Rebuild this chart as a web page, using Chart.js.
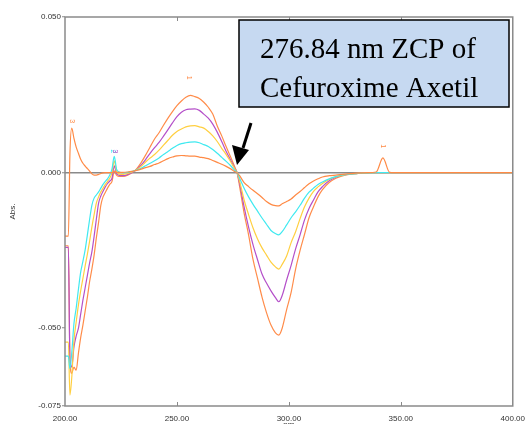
<!DOCTYPE html>
<html>
<head>
<meta charset="utf-8">
<script src="https://cdn.jsdelivr.net/npm/chart.js@4"></script>
<style>
  html, body { margin: 0; padding: 0; background: #fff; }
  canvas { display: block; }
</style>
</head>
<body>
<canvas id="spectrumChart" width="525" height="424"></canvas>
<script>
// wavelength grid (nm)
const wavelength = [
  200, 201.5, 202.2, 203,
  204, 205, 206, 207, 208, 209, 210, 211, 212, 213, 214, 215, 216, 217, 218, 219, 220, 221, 222, 223, 224,
  226, 228, 230, 232, 234, 236, 238, 240, 242, 244, 246, 248, 250, 252, 254, 256, 258, 260, 262, 264, 266, 268, 270, 272, 274, 276,
  276.84,
  278, 280, 282, 284, 286, 288, 290, 292, 294,
  295.5,
  297, 299, 301, 303, 305, 307, 309, 311, 313, 315,
  318, 321, 325, 330, 335, 339, 342, 345, 350,
  360, 370, 380, 390, 400
];

const outerOrange = [
  -0.0235, -0.0235, -0.060, -0.0645,
  -0.0625, -0.0635, -0.058, -0.053, -0.049, -0.0445, -0.040, -0.035, -0.031, -0.0265, -0.021, -0.016, -0.0105, -0.0078, -0.0064, -0.0050, -0.0038, -0.0028, 0.0006, -0.0008, -0.0012,
  -0.0012, -0.0008, 0.0000, 0.0012, 0.0032, 0.0056, 0.0082, 0.0108, 0.0128, 0.0152, 0.0175, 0.0196, 0.0215, 0.0230, 0.0242, 0.0248, 0.0244, 0.0238, 0.0226, 0.0210, 0.0188, 0.0150, 0.0118, 0.0083, 0.0050, 0.0015,
  0,
  -0.0045, -0.0130, -0.0200, -0.0280, -0.0340, -0.0400, -0.0450, -0.0490, -0.0515,
  -0.0522,
  -0.0500, -0.0440, -0.0385, -0.0310, -0.0250, -0.0198, -0.0145, -0.0110, -0.0078, -0.0055,
  -0.0032, -0.0018, -0.0008, -0.0003, -0.0001, 0, 0, 0, 0,
  0, 0, 0, 0, 0
];

const purple = [
  -0.024, -0.024, -0.060, -0.0625,
  -0.056, -0.0525, -0.050, -0.0455, -0.041, -0.037, -0.033, -0.029, -0.0255, -0.0205, -0.0150, -0.0098, -0.0075, -0.0060, -0.0046, -0.0035, -0.0027, -0.0018, 0.0022, -0.0002, -0.0008,
  -0.0010, -0.0006, 0.0000, 0.0010, 0.0024, 0.0042, 0.0062, 0.0080, 0.0097, 0.0117, 0.0138, 0.0160, 0.0180, 0.0194, 0.0202, 0.0204, 0.0205, 0.0200, 0.0188, 0.0175, 0.0156, 0.0130, 0.0100, 0.0068, 0.0040, 0.0012,
  0,
  -0.0035, -0.0110, -0.0175, -0.0232, -0.0280, -0.0326, -0.0355, -0.0380, -0.0402,
  -0.0415,
  -0.0395, -0.0345, -0.0298, -0.0245, -0.0200, -0.0152, -0.0115, -0.0088, -0.0062, -0.0045,
  -0.0026, -0.0015, -0.0007, -0.0003, -0.0001, 0, 0, 0, 0,
  0, 0, 0, 0, 0
];

const yellow = [
  -0.0545, -0.0545, -0.0715, -0.066,
  -0.0540, -0.0480, -0.0425, -0.0380, -0.0340, -0.0300, -0.0262, -0.0220, -0.0175, -0.0135, -0.0098, -0.0078, -0.0062, -0.0050, -0.0038, -0.0028, -0.0018, 0.0000, 0.0038, 0.0005, -0.0004,
  -0.0006, -0.0003, 0.0002, 0.0010, 0.0020, 0.0034, 0.0047, 0.0058, 0.0072, 0.0088, 0.0104, 0.0120, 0.0132, 0.0140, 0.0147, 0.0150, 0.0151, 0.0147, 0.0143, 0.0132, 0.0118, 0.0100, 0.0078, 0.0058, 0.0035, 0.0010,
  0,
  -0.0028, -0.0088, -0.0135, -0.0178, -0.0213, -0.0242, -0.0265, -0.0288, -0.0303,
  -0.0310,
  -0.0295, -0.0268, -0.0225, -0.0190, -0.0148, -0.0110, -0.0082, -0.0060, -0.0046, -0.0035,
  -0.0022, -0.0013, -0.0007, -0.0003, -0.0001, 0, 0, 0, 0,
  0, 0, 0, 0, 0
];

const cyan = [
  -0.059, -0.059, -0.063, -0.058,
  -0.0485, -0.0435, -0.0375, -0.0320, -0.0285, -0.0248, -0.0200, -0.0150, -0.0105, -0.0082, -0.0072, -0.0062, -0.0050, -0.0038, -0.0028, -0.0020, -0.0008, 0.0012, 0.0052, 0.0012, 0.0003,
  0.0000, 0.0001, 0.0004, 0.0008, 0.0014, 0.0022, 0.0030, 0.0038, 0.0047, 0.0058, 0.0068, 0.0078, 0.0087, 0.0093, 0.0096, 0.0098, 0.0099, 0.0096, 0.0090, 0.0084, 0.0074, 0.0062, 0.0049, 0.0036, 0.0022, 0.0006,
  0,
  -0.0018, -0.0050, -0.0078, -0.0102, -0.0124, -0.0146, -0.0166, -0.0186, -0.0196,
  -0.0200,
  -0.0190, -0.0168, -0.0145, -0.0126, -0.0105, -0.0082, -0.0063, -0.0050, -0.0038, -0.0030,
  -0.0020, -0.0013, -0.0007, -0.0003, -0.0001, 0, 0, 0, 0,
  0, 0, 0, 0, 0
];

const innerOrange = [
  -0.0204, -0.0204, 0.0060, 0.0143,
  0.0110, 0.0082, 0.0062, 0.0043, 0.0030, 0.0021, 0.0013, 0.0005, -0.0004, -0.0008, -0.0008, -0.0006, -0.0003, -0.0001, 0, 0, 0, 0, 0.0004, 0.0001, 0.0001,
  0.0001, 0.0002, 0.0004, 0.0007, 0.0011, 0.0016, 0.0020, 0.0026, 0.0031, 0.0038, 0.0045, 0.0050, 0.0054, 0.0055, 0.0054, 0.0053, 0.0053, 0.0050, 0.0048, 0.0045, 0.0039, 0.0033, 0.0027, 0.0020, 0.0012, 0.0003,
  0,
  -0.0010, -0.0032, -0.0045, -0.0057, -0.0068, -0.0080, -0.0093, -0.0102, -0.0106,
  -0.0107,
  -0.0100, -0.0093, -0.0085, -0.0072, -0.0061, -0.0048, -0.0036, -0.0027, -0.0020, -0.0014,
  -0.0010, -0.0008, -0.0005, -0.0002, 0, 0.0002, 0.0047, 0.0001, 0,
  0, 0, 0, 0, 0
];

const xTicks = [200, 250, 300, 350, 400];
const yTicks = [-0.075, -0.05, 0, 0.05];

// peak-pick markers printed by the instrument software: [nm, text, colour]
const peakMarks = [
  [203.1, '3', '#ff8a45'],
  [221.6, '2', '#3fe9f0'],
  [222.4, '3', '#b44fc9'],
  [255.3, '1', '#ff8c4a'],
  [342, '1', '#ff8a45']
];
const peakMarkAbs = [0.0165, 0.0068, 0.0068, 0.0305, 0.0085];

const tickFont = { family: "'Liberation Sans', Arial, sans-serif", size: 8 };
const axisGray = '#8a8a8a';

function toPoints(values) {
  return values.map((v, i) => ({ x: wavelength[i], y: v }));
}

function series(values, color) {
  return {
    data: toPoints(values),
    borderColor: color,
    borderWidth: 1.2,
    pointRadius: 0,
    cubicInterpolationMode: 'monotone',
    fill: false
  };
}

// frame, inner tick marks, axis titles and the ZCP callout
const decorations = {
  id: 'decorations',
  afterDraw(chart) {
    const { ctx, chartArea: a, scales: { x, y } } = chart;
    ctx.save();
    ctx.strokeStyle = axisGray;
    ctx.lineWidth = 1.5;
    ctx.strokeRect(a.left, a.top, a.right - a.left, a.bottom - a.top);

    ctx.lineWidth = 1;
    xTicks.slice(1, -1).forEach(v => {
      const px = Math.round(x.getPixelForValue(v)) + 0.5;
      ctx.beginPath();
      ctx.moveTo(px, a.bottom);
      ctx.lineTo(px, a.bottom - 4);
      ctx.moveTo(px, a.top);
      ctx.lineTo(px, a.top + 4);
      ctx.stroke();
    });

    // small rotated peak labels
    ctx.font = "7px 'Liberation Sans', Arial, sans-serif";
    ctx.textAlign = 'center';
    ctx.textBaseline = 'middle';
    peakMarks.forEach(([nm, txt, col], i) => {
      ctx.save();
      ctx.fillStyle = col;
      ctx.translate(x.getPixelForValue(nm), y.getPixelForValue(peakMarkAbs[i]));
      ctx.rotate(Math.PI / 2);
      ctx.fillText(txt, 0, 0);
      ctx.restore();
    });

    ctx.fillStyle = '#333';
    ctx.font = "8px 'Liberation Sans', Arial, sans-serif";
    ctx.save();
    ctx.translate(13, (a.top + a.bottom) / 2);
    ctx.rotate(-Math.PI / 2);
    ctx.fillText('Abs.', 0, 0);
    ctx.restore();
    ctx.textBaseline = 'top';
    ctx.fillText('nm', x.getPixelForValue(300), 421);

    // callout box
    ctx.fillStyle = '#c6d9f1';
    ctx.fillRect(239, 20, 270, 87);
    ctx.strokeStyle = '#000';
    ctx.lineWidth = 1.5;
    ctx.strokeRect(239, 20, 270, 87);
    ctx.fillStyle = '#000';
    ctx.font = "29px 'Liberation Serif', 'Times New Roman', serif";
    ctx.textAlign = 'left';
    ctx.textBaseline = 'alphabetic';
    ctx.fillText('276.84 nm ZCP of', 260, 58);
    ctx.fillText('Cefuroxime Axetil', 260, 97);

    // arrow to the zero crossing
    ctx.lineWidth = 3;
    ctx.beginPath();
    ctx.moveTo(251, 123);
    ctx.lineTo(243, 148);
    ctx.stroke();
    ctx.beginPath();
    ctx.moveTo(237, 165);
    ctx.lineTo(232, 145);
    ctx.lineTo(249, 150);
    ctx.closePath();
    ctx.fill();
    ctx.restore();
  }
};

new Chart(document.getElementById('spectrumChart'), {
  type: 'line',
  data: {
    datasets: [
      series(innerOrange, '#ff8a45'),
      series(cyan, '#3fe9f0'),
      series(yellow, '#ffcf40'),
      series(purple, '#b44fc9'),
      series(outerOrange, '#ff8c4a')
    ]
  },
  options: {
    responsive: false,
    animation: false,
    layout: { padding: { top: 17, right: 12, left: 0, bottom: 0 } },
    plugins: { legend: { display: false }, tooltip: { enabled: false } },
    scales: {
      x: {
        type: 'linear',
        min: 200,
        max: 400,
        afterBuildTicks: s => { s.ticks = xTicks.map(v => ({ value: v })); },
        afterFit: s => { s.height = 18; },
        border: { display: false },
        grid: { display: false },
        ticks: {
          autoSkip: false,
          maxRotation: 0,
          padding: 0,
          font: tickFont,
          color: '#333',
          callback: v => Number(v).toFixed(2)
        }
      },
      y: {
        min: -0.075,
        max: 0.05,
        afterBuildTicks: s => { s.ticks = yTicks.map(v => ({ value: v })); },
        afterFit: s => { s.width = 65; },
        border: { display: false },
        grid: {
          color: c => (c.tick && c.tick.value === 0 ? axisGray : 'transparent'),
          lineWidth: 1.5,
          tickLength: 3,
          tickColor: axisGray,
          tickWidth: 1
        },
        ticks: {
          autoSkip: false,
          padding: 1,
          font: tickFont,
          color: '#333',
          callback: v => Number(v).toFixed(3)
        }
      }
    }
  },
  plugins: [decorations]
});
</script>
</body>
</html>
